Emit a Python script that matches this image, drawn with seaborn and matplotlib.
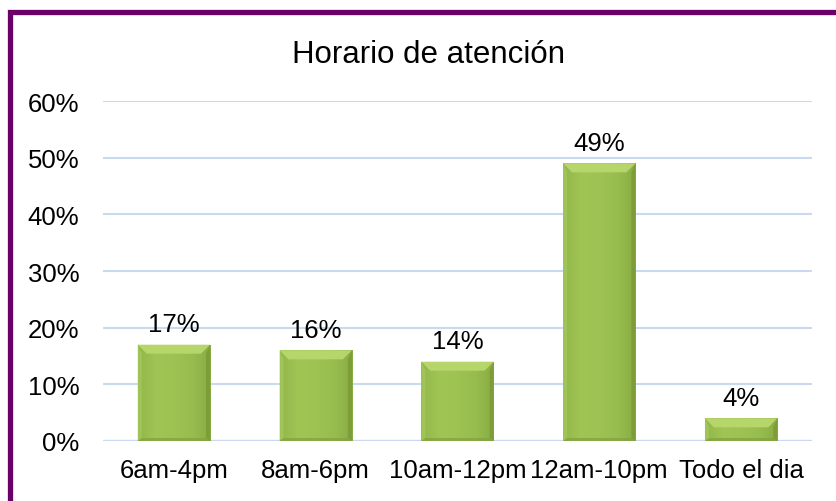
import numpy as np
import pandas as pd
import matplotlib
matplotlib.use("Agg")
import matplotlib.pyplot as plt
from matplotlib.patches import Polygon, Rectangle
from matplotlib.colors import LinearSegmentedColormap
import seaborn as sns

# Data
categories = ["6am-4pm", "8am-6pm", "10am-12pm", "12am-10pm", "Todo el dia"]
values = [17, 16, 14, 49, 4]
y_ticks = [0, 10, 20, 30, 40, 50, 60]
title = "Horario de atención"

sns.set_theme(style="white")
plt.rcParams["font.family"] = ["Liberation Sans", "DejaVu Sans"]

W, H = 837, 502
fig = plt.figure(figsize=(W / 100, H / 100), dpi=100)
ax = fig.add_axes([103 / W, 60 / H, 709 / W, 340 / H])

df = pd.DataFrame({"cat": categories, "val": values})
sns.barplot(data=df, x="cat", y="val", color="#9CC14E", width=0.51,
            saturation=1, ax=ax, zorder=3)

ax.set_ylim(0, 60)
ax.set_xlim(-0.5, len(categories) - 0.5)
ax.set_yticks(y_ticks)
ax.set_yticklabels([f"{t}%" for t in y_ticks])
ax.yaxis.grid(True, color="#C9DAF0", linewidth=1.5, zorder=0)
ax.set_axisbelow(True)
for s in ax.spines.values():
    s.set_visible(False)
ax.axhline(0, color="#C9DAF0", linewidth=1.6, zorder=2)
ax.set_xlabel("")
ax.set_ylabel("")
ax.tick_params(axis="both", length=0, labelsize=18.5, colors="black")
ax.tick_params(axis="y", pad=17)
ax.tick_params(axis="x", pad=12)

# Bevelled green bars
fig.canvas.draw()
to_disp = ax.transData
to_data = ax.transData.inverted()
grad = LinearSegmentedColormap.from_list(
    "g", ["#93B84A", "#A0C555", "#9EC353", "#98BD4F", "#88AC43"])
for p in list(ax.patches):
    x0, y0 = p.get_x(), p.get_y()
    w, h = p.get_width(), p.get_height()
    p.set_edgecolor("none")
    (dx0, dy0), (dx1, dy1) = to_disp.transform([(x0, y0), (x0 + w, y0 + h)])
    bt = min(9, (dy1 - dy0) / 2.2)
    bs = 4
    img = np.linspace(0, 1, 64).reshape(1, -1)
    im = ax.imshow(img, cmap=grad, extent=(x0, x0 + w, y0, y0 + h),
                   aspect="auto", zorder=3.5)
    im.set_clip_path(p)

    def d(px, py):
        return to_data.transform((px, py))

    outer = [d(dx0, dy0), d(dx1, dy0), d(dx1, dy1), d(dx0, dy1)]
    top_in_l = d(dx0 + bt, dy1 - bt)
    top_in_r = d(dx1 - bt, dy1 - bt)
    side_in = [d(dx0 + bs, dy0 + 3), d(dx1 - bs, dy0 + 3),
               d(dx1 - bs, dy1 - bt), d(dx0 + bs, dy1 - bt)]
    faces = [
        ([outer[3], outer[2], top_in_r, top_in_l], "#B8D86E", 0.95),       # top
        ([outer[0], outer[3], side_in[3], side_in[0]], "#A6C95D", 0.7),    # left
        ([outer[1], outer[2], side_in[2], side_in[1]], "#789835", 0.75),   # right
        ([outer[0], outer[1], side_in[1], side_in[0]], "#82A23E", 0.75),   # bottom
    ]
    for pts, c, a in faces:
        ax.add_patch(Polygon(pts, closed=True, facecolor=c, edgecolor="none",
                             alpha=a, zorder=4))

# Value labels
for i, v in enumerate(values):
    ax.annotate(f"{v}%", (i, v), xytext=(0, 6), textcoords="offset points",
                ha="center", va="bottom", fontsize=18.5, color="black",
                zorder=6)

fig.text(429 / W, 1 - 55 / H, title, ha="center", va="center",
         fontsize=22.5, color="black")

# Purple frame
fig.patches.append(Rectangle((10.5 / W, -0.2), 1.2, 1 - 12.5 / H + 0.2,
                             transform=fig.transFigure, fill=False,
                             edgecolor="#6A0068", linewidth=3.8))

fig.savefig("out.png", dpi=100)
